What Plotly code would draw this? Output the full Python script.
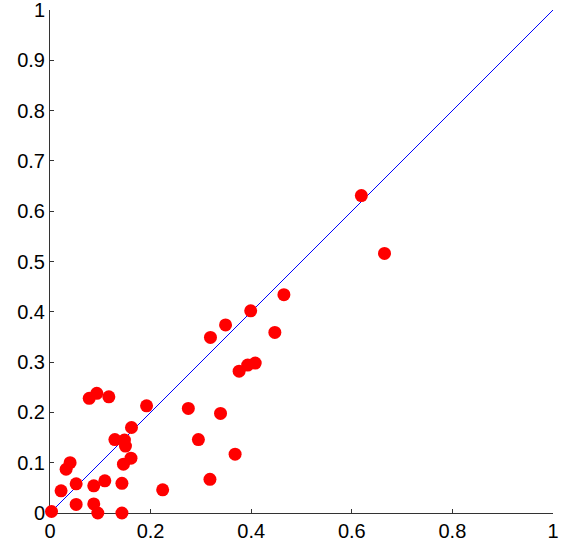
import plotly.graph_objects as go

x_vals = [0.003, 0.022, 0.032, 0.040, 0.052, 0.052, 0.078, 0.093, 0.117, 0.087,
          0.087, 0.095, 0.109, 0.129, 0.148, 0.150, 0.162, 0.146, 0.161, 0.143,
          0.143, 0.192, 0.224, 0.275, 0.295, 0.339, 0.318, 0.368, 0.376, 0.393,
          0.408, 0.319, 0.349, 0.399, 0.465, 0.447, 0.619, 0.665]
y_vals = [0.003, 0.044, 0.087, 0.100, 0.058, 0.017, 0.228, 0.238, 0.231, 0.054,
          0.018, 0.000, 0.064, 0.146, 0.145, 0.133, 0.170, 0.097, 0.109, 0.059,
          0.000, 0.213, 0.046, 0.208, 0.146, 0.198, 0.067, 0.117, 0.282, 0.294,
          0.298, 0.349, 0.374, 0.402, 0.434, 0.359, 0.631, 0.516]
diag_x = [0, 1]
diag_y = [0, 1]
x_ticks = [0, 0.2, 0.4, 0.6, 0.8, 1]
x_ticktext = ["0", "0.2", "0.4", "0.6", "0.8", "1"]
y_ticks = [0, 0.1, 0.2, 0.3, 0.4, 0.5, 0.6, 0.7, 0.8, 0.9, 1]
y_ticktext = ["0", "0.1", "0.2", "0.3", "0.4", "0.5", "0.6", "0.7", "0.8", "0.9", "1"]

fig = go.Figure()
fig.add_trace(go.Scatter(x=diag_x, y=diag_y, mode="lines",
                         line=dict(color="#0000ff", width=1), showlegend=False,
                         hoverinfo="skip"))
fig.add_trace(go.Scatter(x=x_vals, y=y_vals, mode="markers",
                         marker=dict(color="#ff0000", size=13, line=dict(width=0)),
                         cliponaxis=False, showlegend=False))

axis_common = dict(showline=True, linecolor="#333333", linewidth=1,
                   ticks="inside", ticklen=4, tickcolor="#333333",
                   showgrid=False, zeroline=False, layer="below traces",
                   ticklabeloverflow="allow", automargin=False,
                   tickfont=dict(family="Liberation Sans, Arial", size=20, color="#000000"),
                   mirror=False)

fig.update_layout(
    width=575, height=550,
    margin=dict(l=50, r=22, t=10, b=37),
    paper_bgcolor="white", plot_bgcolor="white",
    xaxis=dict(range=[0, 1], tickvals=x_ticks, ticktext=x_ticktext, **axis_common),
    yaxis=dict(range=[0, 1], tickvals=y_ticks, ticktext=y_ticktext, **axis_common),
)

fig.write_html("out.html")
